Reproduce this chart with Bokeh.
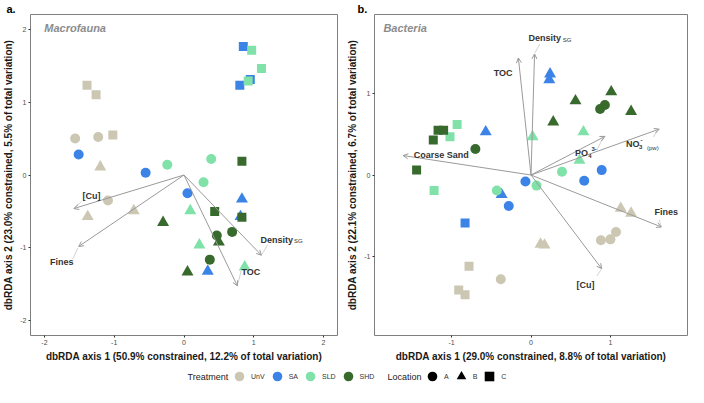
import numpy as np
from bokeh.plotting import figure
from bokeh.models import (ColumnDataSource, Range1d, FixedTicker, Arrow, OpenHead,
                          Label, Legend, LegendItem, Title)
from bokeh.layouts import row, column
from bokeh.core.properties import value, field
from bokeh.embed import file_html
from bokeh.resources import INLINE

FONT = "Liberation Sans"
TREATMENTS = ["UnV", "SA", "SLD", "SHD"]
TREAT_COLORS = ["#CCC7B2", "#3B83E6", "#80E2A9", "#386A2E"]
LOCATIONS = ["A", "B", "C"]
LOC_MARKERS = ["circle", "triangle", "square"]
LOC_SIZES = [10, 12, 9]

# ---------------- Panel a: Macrofauna ----------------
a_treat = ["UnV", "UnV", "UnV", "UnV", "UnV", "UnV", "UnV", "UnV", "UnV",
           "SA", "SA", "SA", "SA", "SA", "SA", "SA", "SA", "SA",
           "SLD", "SLD", "SLD", "SLD", "SLD", "SLD", "SLD", "SLD", "SLD",
           "SHD", "SHD", "SHD", "SHD", "SHD", "SHD", "SHD", "SHD", "SHD"]
a_loc = ["C", "C", "C", "A", "A", "A", "B", "B", "B",
         "C", "C", "C", "A", "A", "A", "B", "B", "B",
         "C", "C", "C", "A", "A", "A", "B", "B", "B",
         "C", "C", "C", "A", "A", "A", "B", "B", "B"]
a_x = [-1.39, -1.26, -1.02, -1.56, -1.23, -1.09, -1.20, -1.38, -0.72,
       0.85, 0.95, 0.80, -1.51, -0.55, 0.05, 0.83, 0.81, 0.34,
       0.97, 1.11, 0.92, -0.24, 0.39, 0.28, 0.09, 0.22, 0.87,
       0.83, 0.44, 0.83, 0.47, 0.69, 0.37, -0.30, 0.50, 0.05]
a_y = [1.23, 1.10, 0.55, 0.50, 0.52, -0.35, 0.11, -0.57, -0.49,
       1.76, 1.31, 1.23, 0.28, 0.03, -0.25, -0.33, -0.57, -1.32,
       1.71, 1.46, 1.29, 0.14, 0.22, -0.10, -0.49, -0.96, -1.26,
       0.19, -0.50, -0.58, -0.83, -0.78, -1.16, -0.65, -0.92, -1.33]

a_vec_names = ["[Cu]", "Fines", "TOC", "Density SG"]
a_vec_x = [-1.58, -1.51, 0.765, 1.11]
a_vec_y = [-0.46, -0.98, -1.52, -1.10]

a_lead_x0 = [-1.47, -1.593, 0.82, 1.20]
a_lead_y0 = [-0.364, -1.150, -1.31, -0.955]
a_lead_x1 = [-1.565, -1.52, 0.772, 1.12]
a_lead_y1 = [-0.45, -1.00, -1.49, -1.085]

a_lab_text = ["[Cu]", "Fines", "TOC", "Density", "SG"]
a_lab_x = [-1.326, -1.751, 0.959, 1.095, 1.575]
a_lab_y = [-0.282, -1.195, -1.327, -0.886, -0.909]
a_lab_kind = ["c", "c", "c", "l", "sn"]

# ---------------- Panel b: Bacteria ----------------
b_treat = ["UnV", "UnV", "UnV", "UnV", "UnV", "UnV", "UnV", "UnV", "UnV", "UnV", "UnV",
           "SA", "SA", "SA", "SA", "SA", "SA", "SA", "SA", "SA",
           "SLD", "SLD", "SLD", "SLD", "SLD", "SLD", "SLD", "SLD", "SLD",
           "SHD", "SHD", "SHD", "SHD", "SHD", "SHD", "SHD", "SHD", "SHD", "SHD", "SHD"]
b_loc = ["B", "B", "B", "B", "A", "A", "A", "A", "C", "C", "C",
         "B", "B", "B", "B", "A", "A", "A", "A", "C",
         "B", "B", "B", "A", "A", "A", "C", "C", "C",
         "B", "B", "B", "B", "A", "A", "A", "C", "C", "C", "C"]
b_x = [1.13, 1.26, 0.12, 0.17, 0.88, 1.00, 1.07, -0.38, -0.78, -0.91, -0.83,
       0.24, 0.23, -0.57, -0.37, 0.89, 0.67, -0.07, -0.28, -0.83,
       0.66, 0.02, 0.61, 0.39, 0.07, -0.43, -0.93, -1.02, -1.22,
       0.56, 1.01, 1.26, 0.28, 0.87, 0.93, -0.70, -1.17, -1.10, -1.23, -1.44]
b_y = [-0.41, -0.47, -0.85, -0.86, -0.80, -0.79, -0.70, -1.28, -1.12, -1.41, -1.47,
       1.24, 1.17, 0.53, -0.24, 0.06, -0.07, -0.08, -0.38, -0.59,
       0.53, 0.47, 0.18, 0.04, -0.13, -0.19, 0.62, 0.47, -0.19,
       0.91, 1.02, 0.78, 0.65, 0.81, 0.86, 0.32, 0.55, 0.55, 0.43, 0.06]

b_vec_names = ["TOC", "Density SG", "Coarse Sand", "PO4 3-", "NO3- (pw)", "Fines", "[Cu]"]
b_vec_x = [-0.159, 0.045, -1.610, 0.931, 1.614, 1.642, 0.890]
b_vec_y = [1.437, 1.486, 0.239, 0.474, 0.563, -0.638, -1.150]

b_lead_x0 = [0.11, 0.829, 1.541, 1.614, 0.829]
b_lead_y0 = [1.607, 0.304, 0.466, -0.549, -1.240]
b_lead_x1 = [0.05, 0.905, 1.595, 1.635, 0.882]
b_lead_y1 = [1.50, 0.455, 0.548, -0.625, -1.16]

b_lab_text = ["TOC", "Density", "SG", "Coarse Sand", "PO", "4", "3-", "NO", "3", "-", "(pw)", "Fines", "[Cu]"]
b_lab_x = [-0.350, -0.033, 0.400, -1.476, 0.553, 0.720, 0.761, 1.195, 1.360, 1.378, 1.460, 1.703, 0.687]
b_lab_y = [1.251, 1.680, 1.655, 0.247, 0.271, 0.235, 0.324, 0.377, 0.338, 0.426, 0.336, -0.455, -1.350]
b_lab_kind = ["c", "l", "sn", "l", "l", "s", "s", "l", "s", "s", "sn", "c", "c"]

ARROW = "#9a9a9a"
LEADER = "#c6c6c6"


def make_panel(px, py, ptreat, ploc, vx, vy, lead, labs, lim, ticks, width, bl, br,
               title, title_dx, letter, letter_offset, xlabel, ylabel):
    p = figure(width=width, height=364, x_range=Range1d(-lim, lim), y_range=Range1d(-lim, lim),
               output_backend="svg", toolbar_location=None,
               min_border_left=bl, min_border_right=br, min_border_top=4, min_border_bottom=28)
    p.grid.visible = False
    p.outline_line_color = "#7f7f7f"
    p.outline_line_width = 1
    for ax in (p.xaxis[0], p.yaxis[0]):
        ax.ticker = FixedTicker(ticks=ticks)
        ax.major_label_overrides = {t: str(t) for t in ticks}
        ax.axis_line_color = None
        ax.major_tick_line_color = "#333333"
        ax.major_tick_out = 2
        ax.major_tick_in = 0
        ax.minor_tick_line_color = None
        ax.major_label_text_font = FONT
        ax.major_label_text_font_size = "7px"
        ax.major_label_text_color = "#4d4d4d"
        ax.major_label_standoff = 2
        ax.axis_label_text_font = FONT
        ax.axis_label_text_font_size = "10px"
        ax.axis_label_text_font_style = "bold"
        ax.axis_label_text_color = "#1a1a1a"
        ax.axis_label_standoff = 3
    p.xaxis.axis_label = xlabel
    p.yaxis.axis_label = ylabel

    t = Title(text=letter, text_font=FONT, text_font_size="11px", text_font_style="bold",
              text_color="#000000", align="left", offset=letter_offset, standoff=0)
    p.add_layout(t, "above")

    colors = [TREAT_COLORS[TREATMENTS.index(t)] for t in ptreat]
    markers = [LOC_MARKERS[LOCATIONS.index(l)] for l in ploc]
    sizes = [LOC_SIZES[LOCATIONS.index(l)] for l in ploc]
    src = ColumnDataSource(dict(x=px, y=py, color=colors, marker=markers, size=sizes))
    p.scatter(x="x", y="y", source=src, marker=field("marker"), size=field("size"),
              fill_color=field("color"), line_color=None)

    asrc = ColumnDataSource(dict(x0=[0.0 for _ in vx], y0=[0.0 for _ in vy], x1=vx, y1=vy))
    p.add_layout(Arrow(source=asrc, x_start="x0", y_start="y0", x_end="x1", y_end="y1",
                       line_color=ARROW, line_width=1,
                       end=OpenHead(size=5, line_color=ARROW, line_width=1)))

    lx0, ly0, lx1, ly1 = lead
    p.segment(x0="x0", y0="y0", x1="x1", y1="y1",
              source=ColumnDataSource(dict(x0=lx0, y0=ly0, x1=lx1, y1=ly1)),
              line_color=LEADER, line_width=0.8)

    lt, lxs, lys, lk = labs
    for kind, size, style, align in [("c", "9px", "bold", "center"), ("l", "9px", "bold", "left"),
                                     ("s", "6px", "bold", "left"), ("sn", "6px", "normal", "left")]:
        idx = [i for i, k in enumerate(lk) if k == kind]
        if not idx:
            continue
        s = ColumnDataSource(dict(x=[lxs[i] for i in idx], y=[lys[i] for i in idx],
                                  text=[lt[i] for i in idx]))
        r = p.text(x="x", y="y", text="text", source=s, text_font=value(FONT),
                   text_font_size=size, text_font_style=style, text_align=align,
                   text_baseline="middle", text_color="#333333")
        r.level = "overlay"

    frame_w = width - bl - br
    p.add_layout(Label(x=-lim + title_dx * 2 * lim / frame_w, y=lim * 0.918, text=title,
                       text_font=FONT, text_font_size="11px", text_font_style="bold italic",
                       text_color="#8c8c8c", text_baseline="middle", text_align="left"))
    return p


pa = make_panel(a_x, a_y, a_treat, a_loc, a_vec_x, a_vec_y,
                (a_lead_x0, a_lead_y0, a_lead_x1, a_lead_y1),
                (a_lab_text, a_lab_x, a_lab_y, a_lab_kind),
                2.2, [-2, -1, 0, 1, 2], 344, 24, 7,
                "Macrofauna", 14, "a.", -24,
                "dbRDA axis 1 (50.9% constrained, 12.2% of total variation)",
                "dbRDA axis 2 (23.0% constrained, 5.5% of total variation)")
pb = make_panel(b_x, b_y, b_treat, b_loc, b_vec_x, b_vec_y,
                (b_lead_x0, b_lead_y0, b_lead_x1, b_lead_y1),
                (b_lab_text, b_lab_x, b_lab_y, b_lab_kind),
                1.97, [-1, 0, 1], 344, 27, 1,
                "Bacteria", 9, "b.", -17,
                "dbRDA axis 1 (29.0% constrained, 8.8% of total variation)",
                "dbRDA axis 2 (22.1% constrained, 6.7% of total variation)")

# ---------------- Legend strip ----------------
leg = figure(width=688, height=23, x_range=Range1d(0, 688), y_range=Range1d(0, 23),
             output_backend="svg", toolbar_location=None, min_border=0,
             x_axis_type=None, y_axis_type=None)
leg.outline_line_color = None
leg.grid.visible = False

t_items = []
for t, c in zip(TREATMENTS, TREAT_COLORS):
    r = leg.scatter(x=np.array([np.nan]), y=np.array([np.nan]), marker="circle",
                    fill_color=c, line_color=None, size=10)
    t_items.append(LegendItem(label=t, renderers=[r]))
l_items = []
for l, m in zip(LOCATIONS, LOC_MARKERS):
    r = leg.scatter(x=np.array([np.nan]), y=np.array([np.nan]), marker=m,
                    fill_color="black", line_color=None, size=10)
    l_items.append(LegendItem(label=l, renderers=[r]))


def make_legend(items, x):
    return Legend(items=items, orientation="horizontal", location=(x, -1),
                  glyph_width=24, glyph_height=24, label_standoff=0, spacing=0,
                  padding=0, margin=0, label_width=0, label_height=10,
                  label_text_font=FONT, label_text_font_size="7px",
                  label_text_color="#333333", border_line_color=None,
                  background_fill_alpha=0)


leg.add_layout(make_legend(t_items, 227))
leg.add_layout(make_legend(l_items, 420))
leg.add_layout(Label(x=187, y=11, text="Treatment", text_font=FONT, text_font_size="9px",
                     text_color="#222222", text_baseline="middle", text_align="left"))
leg.add_layout(Label(x=387, y=11, text="Location", text_font=FONT, text_font_size="9px",
                     text_color="#222222", text_baseline="middle", text_align="left"))

layout = column(row(pa, pb), leg)
open("out.html", "w").write(file_html(layout, INLINE))
